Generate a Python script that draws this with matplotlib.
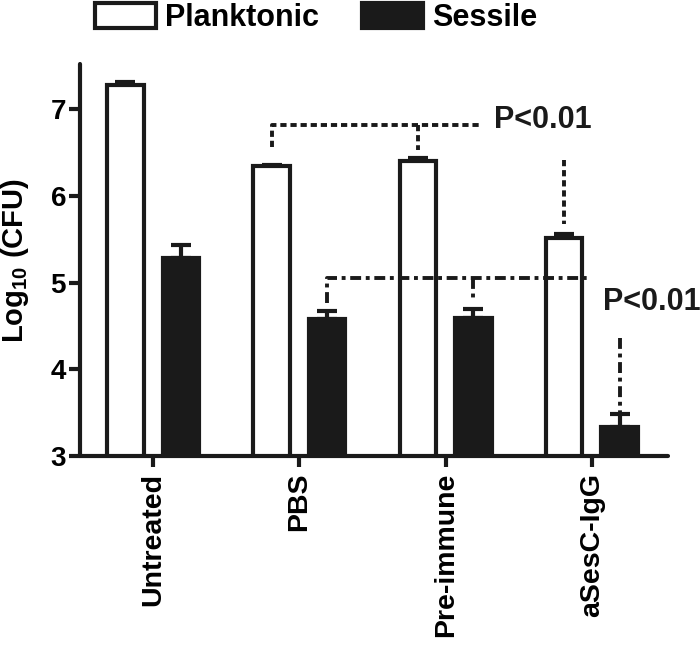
import numpy as np
import matplotlib
matplotlib.use("Agg")
import matplotlib.pyplot as plt
from matplotlib.patches import Patch

plt.rcParams['font.family'] = ['Liberation Sans', 'DejaVu Sans']
plt.rcParams['font.weight'] = 'bold'
plt.rcParams['mathtext.fontset'] = 'custom'
plt.rcParams['mathtext.rm'] = 'Liberation Sans:bold'

# Data (log10 CFU)
categories = ['Untreated', 'PBS', 'Pre-immune', 'aSesC-IgG']
planktonic = [7.28, 6.34, 6.40, 5.51]
planktonic_err = [0.03, 0.01, 0.04, 0.05]
sessile = [5.28, 4.58, 4.59, 3.34]
sessile_err = [0.15, 0.09, 0.10, 0.14]

# significance annotations
top_bracket_y = 6.82
top_bracket_drops = [6.565, 6.53]
low_bracket_y = 5.05
low_bracket_drops = [4.76, 4.77]
asesc_plank_line = [6.41, 5.68]
asesc_sess_line = [4.36, 3.50]
p_label = 'P<0.01'

x = np.arange(len(categories))
off = 0.19
w = 0.25

fig = plt.figure(figsize=(7.0, 6.49), dpi=100)
ax = fig.add_axes([80/700, 1 - 456/649, 588/700, (456 - 64)/649])

ax.bar(x - off, planktonic, w, bottom=0, facecolor='white', edgecolor='#1a1a1a',
       linewidth=3, zorder=2)
ax.bar(x + off, sessile, w, bottom=0, facecolor='#1a1a1a', edgecolor='#1a1a1a',
       linewidth=3, zorder=2)
ax.errorbar(x - off, planktonic, yerr=[np.zeros(4), planktonic_err], fmt='none',
            ecolor='#1a1a1a', elinewidth=3, capsize=7.5, capthick=3, zorder=1)
ax.errorbar(x + off, sessile, yerr=[np.zeros(4), sessile_err], fmt='none',
            ecolor='#1a1a1a', elinewidth=3, capsize=7.5, capthick=3, zorder=1)

# ── significance lines ──
dash = (0, (1.6, 1.0))
dashdot = (0, (2.8, 1.2, 1.0, 1.2))
k = '#1a1a1a'
ax.plot([x[1] - off, x[1] - off, 2.225], [top_bracket_drops[0], top_bracket_y, top_bracket_y],
        color=k, lw=2.8, ls=dash, clip_on=False)
ax.plot([x[2] - off, x[2] - off], [top_bracket_y, top_bracket_drops[1]],
        color=k, lw=2.8, ls=dash, clip_on=False)
ax.plot([x[3] - off, x[3] - off], asesc_plank_line, color=k, lw=2.8, ls=dash)

ax.plot([x[1] + off, x[1] + off, 2.99], [low_bracket_drops[0], low_bracket_y, low_bracket_y],
        color=k, lw=2.8, ls=dashdot)
ax.plot([x[2] + off, x[2] + off], [low_bracket_y, low_bracket_drops[1]],
        color=k, lw=2.8, ls=dashdot)
ax.plot([x[3] + off, x[3] + off], asesc_sess_line, color=k, lw=2.8, ls=dashdot)

ax.text(2.33, 6.88, p_label, fontsize=22, fontweight='bold', va='center', ha='left',
        color=k, clip_on=False)
ax.text(3.075, 4.77, p_label, fontsize=22, fontweight='bold', va='center', ha='left',
        color=k, clip_on=False)

# ── axes formatting ──
ax.set_xlim(-0.5, 3.52)
ax.set_ylim(3, 7.52)
ax.set_yticks([3, 4, 5, 6, 7])
ax.set_xticks(x)
ax.set_xticklabels(categories, rotation=90, fontsize=20.5, fontweight='bold')
ax.tick_params(axis='y', labelsize=20, width=3, length=8, pad=2, color=k)
ax.tick_params(axis='x', width=3, length=8, pad=4, color=k)
for s in ['top', 'right']:
    ax.spines[s].set_visible(False)
for s in ['left', 'bottom']:
    ax.spines[s].set_linewidth(3)
    ax.spines[s].set_color(k)
    ax.spines[s].set_capstyle('round')
ax.set_ylabel(r'Log$_{\mathrm{10}}$ (CFU)', fontsize=21, fontweight='bold')
ax.yaxis.set_label_coords(-0.084, 0.5)

handles = [Patch(facecolor='white', edgecolor=k, linewidth=3, label='Planktonic'),
           Patch(facecolor=k, edgecolor=k, linewidth=3, label='Sessile')]
fig.legend(handles=handles, loc='upper left', bbox_to_anchor=(92/700, 1.0), ncol=2,
           frameon=False, fontsize=22, handlelength=2.0, handleheight=0.85,
           handletextpad=0.3, columnspacing=1.4, borderpad=0.1, borderaxespad=0)

plt.savefig('out.png', dpi=100)
